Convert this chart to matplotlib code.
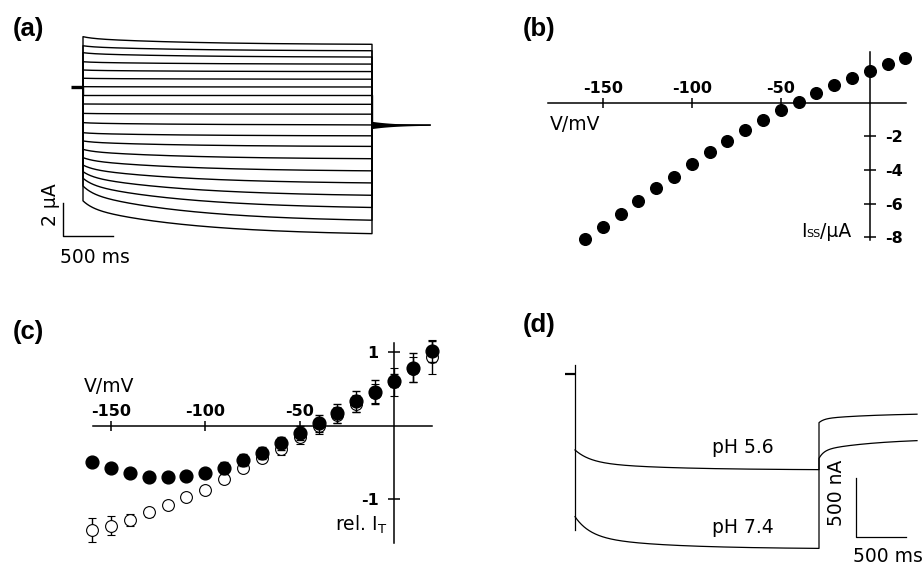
"""Four-panel figure: current family, steady-state I-V, relative I-V and pH traces."""

import matplotlib

matplotlib.use("Agg")
import matplotlib.pyplot as plt
import numpy as np
from matplotlib.offsetbox import AnnotationBbox, HPacker, TextArea

plt.rcParams["font.family"] = "DejaVu Sans"
plt.rcParams["axes.unicode_minus"] = False

# (a) current family, test potentials +20 ... -170 mV in 10 mV steps
family_initial_ua = [3.05, 2.50, 2.08, 1.53, 1.03, 0.53, 0.02, -0.50, -1.03, -1.60,
                     -2.16, -2.77, -3.27, -3.78, -4.28, -4.73, -5.13, -5.53, -6.00, -6.90]
family_steady_ua = [2.56, 2.18, 1.80, 1.38, 0.93, 0.47, 0.00, -0.50, -1.05, -1.65,
                    -2.30, -2.97, -3.62, -4.38, -5.13, -5.88, -6.65, -7.41, -8.20, -9.01]
family_holding_ua = 0.0
family_tail_ua = -2.30
family_tail_spread_ua = 0.22
family_pulse_ms = 2890
family_tail_ms = 580

# (b) steady-state current vs. voltage
iv_voltage_mv = [-160, -150, -140, -130, -120, -110, -100, -90, -80, -70,
                 -60, -50, -40, -30, -20, -10, 0, 10, 20]
iv_steady_ua = [-8.14, -7.38, -6.61, -5.83, -5.09, -4.40, -3.66, -2.94, -2.29, -1.63,
                -1.00, -0.44, 0.08, 0.58, 1.06, 1.51, 1.93, 2.35, 2.71]

# (c) relative current, filled and open symbols with error bars
rel_voltage_mv = iv_voltage_mv
rel_filled = [-0.50, -0.58, -0.65, -0.70, -0.70, -0.69, -0.65, -0.58, -0.47, -0.37,
              -0.24, -0.10, 0.03, 0.17, 0.33, 0.46, 0.61, 0.79, 1.01]
rel_filled_err = [0.02, 0.02, 0.02, 0.02, 0.02, 0.02, 0.02, 0.08, 0.08, 0.08,
                  0.09, 0.10, 0.11, 0.13, 0.14, 0.16, 0.09, 0.20, 0.14]
rel_open = [-1.42, -1.36, -1.28, -1.18, -1.08, -0.97, -0.87, -0.73, -0.58, -0.44,
            -0.32, -0.16, -0.01, 0.15, 0.30, 0.44, 0.60, 0.77, 0.94]
rel_open_err = [0.16, 0.125, 0.08, 0.057, 0.027, 0.006, 0.016, 0.04, 0.035, 0.05,
                0.08, 0.09, 0.10, 0.11, 0.12, 0.13, 0.19, 0.17, 0.23]
tick_mv = [-150, -100, -50]
tick_mv_labels = ["-150", "-100", "-50"]
iv_ticks_ua = [-2, -4, -6, -8]
iv_tick_labels = ["-2", "-4", "-6", "-8"]
rel_ticks = [1, -1]
rel_tick_labels = ["1", "-1"]

# (d) single traces at two pH values
ph_labels = ["pH 5.6", "pH 7.4"]
ph_initial_na = [-651, -1223]
ph_steady_na = [-823, -1500]
ph_tail_start_na = [-723, -417]
ph_tail_end_na = [-551, -335]
ph_transient_na = [77, -1337]
ph_holding_na = 0.0
ph_pulse_ms = 2440
ph_tail_ms = 980

# relaxation kinetics (two exponentials: fast tau, slow tau, fast weight)
inward_kinetics = (100.0, 600.0, 0.65)
outward_kinetics = (100.0, 1100.0, 0.2)
ph_kinetics = (150.0, 800.0, 0.6)
tail_kinetics = (50.0, 600.0, 0.4)

FIG_W, FIG_H = 924, 565
TEXT_SIZE = 13.5
TICK_SIZE = 11.5


def relax(t, start, end, kinetics):
    fast, slow, weight = kinetics
    remaining = weight * np.exp(-t / fast) + (1 - weight) * np.exp(-t / slow)
    return end + (start - end) * remaining


def add_panel(fig, box, xlim, ylim):
    left, top, right, bottom = box
    ax = fig.add_axes([left / FIG_W, 1 - bottom / FIG_H,
                       (right - left) / FIG_W, (bottom - top) / FIG_H])
    ax.set_xlim(*xlim)
    ax.set_ylim(*ylim)
    ax.patch.set_visible(False)
    return ax


def cross_axes(ax, xbounds, ybounds, y_side):
    for side in ("bottom", "left" if y_side == "right" else "right"):
        ax.spines[side].set_visible(False)
    for side in ("top", y_side):
        ax.spines[side].set_position(("data", 0))
        ax.spines[side].set_linewidth(1.1)
    ax.spines["top"].set_bounds(*xbounds)
    ax.spines[y_side].set_bounds(*ybounds)
    ax.xaxis.set_ticks_position("top")
    ax.yaxis.set_ticks_position(y_side)
    ax.tick_params(axis="x", direction="inout", length=7, width=1.1, pad=1.2)
    ax.tick_params(axis="y", direction="inout", length=8, width=1.1, pad=7)


fig = plt.figure(figsize=(FIG_W / 100, FIG_H / 100), dpi=100)

# ---- (a) ----
ax_a = add_panel(fig, (0, 0, 460, 290), (-830, 3770), (-12.303, 5.273))
ax_a.axis("off")
pulse_t = np.linspace(0, family_pulse_ms, 600)
for start, end in zip(family_initial_ua, family_steady_ua):
    kinetics = outward_kinetics if start > end else inward_kinetics
    trace = relax(pulse_t, start, end, kinetics)
    ax_a.plot(np.r_[0, pulse_t, family_pulse_ms],
              np.r_[family_holding_ua, trace, family_tail_ua],
              color="black", lw=1.0)
ax_a.plot([-120, 0], [family_holding_ua] * 2, color="black", lw=2.4, solid_capstyle="butt")
tail_t = np.linspace(0, family_tail_ms, 200)
half = family_tail_spread_ua * np.exp(-tail_t / 250)
ax_a.fill_between(family_pulse_ms + tail_t, family_tail_ua - half, family_tail_ua + half,
                  color="black", lw=0)
ax_a.plot(family_pulse_ms + tail_t, np.full_like(tail_t, family_tail_ua), color="black", lw=1.2)
# scale bar 500 ms / 2 uA
ax_a.plot([-200, -200, 300], [-7.03, -9.03, -9.03], color="black", lw=1.0)
ax_a.text(-325, -7.15, "2 µA", rotation=90, ha="center", va="center", size=TEXT_SIZE)
ax_a.text(120, -10.67, "500 ms", ha="center", va="baseline", size=TEXT_SIZE)

# ---- (b) ----
ax_b = add_panel(fig, (460, 0, 924, 290), (-230.2, 30.5), (-11.164, 6.149))
cross_axes(ax_b, (-180.7, 20.4), (-8.18, 3.06), "right")
ax_b.set_xticks(tick_mv, labels=tick_mv_labels, fontweight="bold", size=TICK_SIZE)
ax_b.set_yticks(iv_ticks_ua, labels=iv_tick_labels, fontweight="bold", size=TICK_SIZE)
ax_b.plot(iv_voltage_mv, iv_steady_ua, "o", color="black", ms=8.4, clip_on=False, zorder=3)
ax_b.text(-179.6, -1.61, "V/mV", ha="left", va="baseline", size=TEXT_SIZE)
iss_label = HPacker(children=[TextArea("I", textprops=dict(size=TEXT_SIZE)),
                              TextArea("SS", textprops=dict(size=8)),
                              TextArea("/µA", textprops=dict(size=TEXT_SIZE))],
                    align="baseline", pad=0, sep=0)
ax_b.add_artist(AnnotationBbox(iss_label, (-10.1, -8.26), xycoords="data",
                               box_alignment=(1, 0), frameon=False, pad=0))

# ---- (c) ----
ax_c = add_panel(fig, (0, 290, 460, 565), (-208.8, 34.98), (-1.895, 1.846))
cross_axes(ax_c, (-159.7, 20.0), (-1.60, 1.13), "left")
ax_c.set_xticks(tick_mv, labels=tick_mv_labels, fontweight="bold", size=TICK_SIZE)
ax_c.set_yticks(rel_ticks, labels=rel_tick_labels, fontweight="bold", size=TICK_SIZE)
ax_c.errorbar(rel_voltage_mv, rel_open, yerr=rel_open_err, fmt="o", ms=8.5,
              mfc="white", mec="black", mew=0.8, ecolor="black", elinewidth=1.0,
              capsize=3, capthick=1.0, clip_on=False, zorder=3)
ax_c.errorbar(rel_voltage_mv, rel_filled, yerr=rel_filled_err, fmt="o", ms=9.2,
              mfc="black", mec="black", ecolor="black", elinewidth=1.0,
              capsize=3, capthick=1.0, clip_on=False, zorder=4)
ax_c.text(-164.3, 0.463, "V/mV", ha="left", va="baseline", size=TEXT_SIZE)
ax_c.text(-3.7, -1.43, r"rel. I$_\mathregular{T}$", ha="right", va="baseline", size=TEXT_SIZE)

# ---- (d) ----
ax_d = add_panel(fig, (460, 290, 924, 565), (-1150, 3490), (-1637.1, 720.0))
ax_d.axis("off")
ax_d.plot([-100, 0], [ph_holding_na] * 2, color="black", lw=1.6, solid_capstyle="butt")
ax_d.plot([0, 0], ph_transient_na, color="black", lw=0.9)
step_t = np.linspace(0, ph_pulse_ms, 600)
tail_t = np.linspace(0, ph_tail_ms, 300)
for start, end, t0, t1 in zip(ph_initial_na, ph_steady_na, ph_tail_start_na, ph_tail_end_na):
    step = relax(step_t, start, end, ph_kinetics)
    tail = relax(tail_t, t0, t1, tail_kinetics)
    ax_d.plot(np.r_[step_t, ph_pulse_ms + tail_t], np.r_[step, tail], color="black", lw=0.9)
ax_d.text(1675, -680, ph_labels[0], ha="center", va="baseline", size=TEXT_SIZE)
ax_d.text(1675, -1366, ph_labels[1], ha="center", va="baseline", size=TEXT_SIZE)
# scale bar 500 ms / 500 nA
ax_d.plot([2807, 2807, 3307], [-894, -1394, -1394], color="black", lw=0.9)
ax_d.text(2615, -1016, "500 nA", rotation=90, ha="center", va="center", size=TEXT_SIZE)
ax_d.text(3130, -1609, "500 ms", ha="center", va="baseline", size=TEXT_SIZE)

for letter, x, y in [("(a)", 13, 17), ("(b)", 523, 17), ("(c)", 13, 320), ("(d)", 523, 313)]:
    fig.text(x / FIG_W, 1 - y / FIG_H, letter, ha="left", va="top",
             family="Liberation Sans", fontweight="bold", fontstretch="normal", size=18.5)

fig.savefig("out.png", dpi=100)
